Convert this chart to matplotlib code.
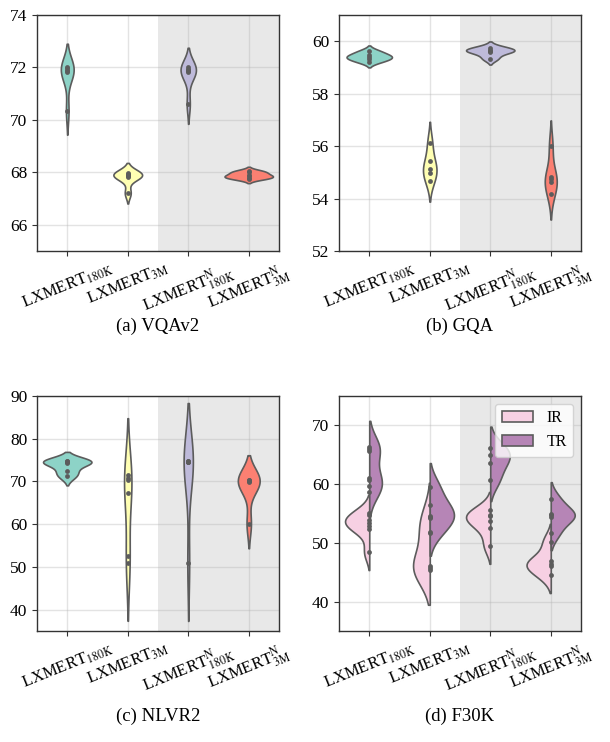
import numpy as np
import matplotlib
matplotlib.use('Agg')
import matplotlib.pyplot as plt
from matplotlib.patches import Patch

plt.rcParams['font.family'] = ['Liberation Serif', 'DejaVu Serif']
plt.rcParams['mathtext.fontset'] = 'stix'

# ---------------- data ----------------
tick_labels = [r'LXMERT$_{\mathrm{180K}}$', r'LXMERT$_{\mathrm{3M}}$',
               r'LXMERT$^{\mathrm{N}}_{\mathrm{180K}}$', r'LXMERT$^{\mathrm{N}}_{\mathrm{3M}}$']
captions = ['(a) VQAv2', '(b) GQA', '(c) NLVR2', '(d) F30K']

vqa_180k = [70.34, 71.83, 71.88, 71.92, 71.96, 72.0]
vqa_3m = [67.21, 67.84, 67.87, 67.9, 67.93, 67.96]
vqa_n180k = [70.6, 71.82, 71.86, 71.9, 71.95, 72.0]
vqa_n3m = [67.75, 67.8, 67.85, 67.9, 68.0, 68.05]

gqa_180k = [59.22, 59.34, 59.40, 59.48, 59.62]
gqa_3m = [54.68, 54.99, 55.14, 55.43, 56.13]
gqa_n180k = [59.34, 59.57, 59.63, 59.68, 59.76]
gqa_n3m = [54.18, 54.64, 54.73, 54.83, 56.0]

nlvr_180k = [71.2, 72.4, 74.4, 74.6, 74.7, 74.8]
nlvr_3m = [50.8, 52.5, 67.4, 70.3, 70.9, 71.4]
nlvr_n180k = [50.9, 74.5, 74.6, 74.6, 74.7, 74.8]
nlvr_n3m = [60.1, 69.9, 70.0, 70.1, 70.3, 70.4]

f30k_ir_180k = [48.4, 52.3, 52.8, 53.3, 53.9, 54.7, 55.1]
f30k_ir_3m = [45.4, 45.7, 46.1, 51.7, 54.3]
f30k_ir_n180k = [49.5, 52.6, 53.8, 54.5, 54.8, 55.6]
f30k_ir_n3m = [44.5, 46.1, 46.4, 47.0, 50.2]
f30k_tr_180k = [58.7, 59.6, 60.7, 61.0, 65.7, 66.0, 66.3]
f30k_tr_3m = [51.9, 54.4, 54.6, 56.4, 59.5]
f30k_tr_n180k = [60.7, 63.6, 65.0, 66.2]
f30k_tr_n3m = [51.7, 54.4, 54.7, 54.9, 57.4]

hue_labels = ['IR', 'TR']

set3 = ['#8dd3c7', '#ffffb3', '#bebada', '#fb8072']
hue_colors = ['#f7d0e3', '#b685b6']
line_col = '#5c5c5c'


def kde(vals, gridsize=100, cut=2):
    v = np.asarray(vals, float)
    n = len(v)
    bw = v.std(ddof=1) * n ** (-0.2)
    grid = np.linspace(v.min() - cut * bw, v.max() + cut * bw, gridsize)
    dens = np.exp(-0.5 * ((grid[:, None] - v[None, :]) / bw) ** 2).sum(1) / (n * bw * np.sqrt(2 * np.pi))
    return grid, dens


def style(ax, ylim, yticks):
    ax.set_xlim(-0.5, 3.5)
    ax.axvspan(1.5, 3.5, color='#e8e8e8', zorder=0, lw=0)
    ax.set_ylim(*ylim)
    ax.set_yticks(yticks)
    ax.set_xticks(range(4))
    ax.set_xticklabels(tick_labels, rotation=22, ha='center', fontsize=12)
    ax.grid(True, color='#b0b0b0', alpha=0.35, lw=1)
    ax.set_axisbelow(True)
    ax.tick_params(length=3.5, width=0.8, color='#333333')
    ax.tick_params(axis='x', pad=2.5)
    ax.tick_params(axis='y', labelsize=12.5)
    for s in ax.spines.values():
        s.set_color('#333333')
        s.set_linewidth(1.0)


def violins(ax, groups):
    kd = [kde(g) for g in groups]
    mx = max(d.max() for _, d in kd)
    for i, (g, (grid, dens)) in enumerate(zip(groups, kd)):
        w = 0.4 * dens / mx
        ax.fill_betweenx(grid, i - w, i + w, facecolor=set3[i], edgecolor=line_col, lw=1.2, zorder=2)
        ax.scatter(np.full(len(g), i), g, s=12, color=line_col, zorder=3, lw=0)


def split_violins(ax, left, right):
    for i, (gl, gr) in enumerate(zip(left, right)):
        kl, kr = kde(gl), kde(gr)
        mx = max(kl[1].max(), kr[1].max())
        ax.fill_betweenx(kl[0], i - 0.4 * kl[1] / mx, i, facecolor=hue_colors[0], edgecolor=line_col, lw=1.2, zorder=2)
        ax.fill_betweenx(kr[0], i, i + 0.4 * kr[1] / mx, facecolor=hue_colors[1], edgecolor=line_col, lw=1.2, zorder=2)
        allv = list(gl) + list(gr)
        ax.scatter(np.full(len(allv), i), allv, s=12, color=line_col, zorder=3, lw=0)


fig = plt.figure(figsize=(6.1, 7.42), dpi=100)
W, H = 610, 742


def add_ax(l, t, r, b):
    return fig.add_axes([l / W, 1 - b / H, (r - l) / W, (b - t) / H])


axa = add_ax(37, 15, 279, 251)
axb = add_ax(339, 15, 581, 251)
axc = add_ax(37, 396, 279, 631)
axd = add_ax(339, 396, 581, 631)

violins(axa, [vqa_180k, vqa_3m, vqa_n180k, vqa_n3m])
style(axa, (65, 74), [66, 68, 70, 72, 74])

violins(axb, [gqa_180k, gqa_3m, gqa_n180k, gqa_n3m])
style(axb, (52, 61), [52, 54, 56, 58, 60])

violins(axc, [nlvr_180k, nlvr_3m, nlvr_n180k, nlvr_n3m])
style(axc, (35, 90), [40, 50, 60, 70, 80, 90])

split_violins(axd, [f30k_ir_180k, f30k_ir_3m, f30k_ir_n180k, f30k_ir_n3m],
              [f30k_tr_180k, f30k_tr_3m, f30k_tr_n180k, f30k_tr_n3m])
style(axd, (35, 75), [40, 50, 60, 70])
handles = [Patch(facecolor=c, edgecolor=line_col, lw=1.2) for c in hue_colors]
axd.legend(handles, hue_labels, loc='upper right', fontsize=11.5)

for ax, cap, y in zip([axa, axb, axc, axd], captions, [326, 326, 716, 716]):
    pos = ax.get_position()
    fig.text((pos.x0 + pos.x1) / 2, 1 - y / H, cap, ha='center', va='center', fontsize=13.5)

fig.savefig('out.png', dpi=100)
